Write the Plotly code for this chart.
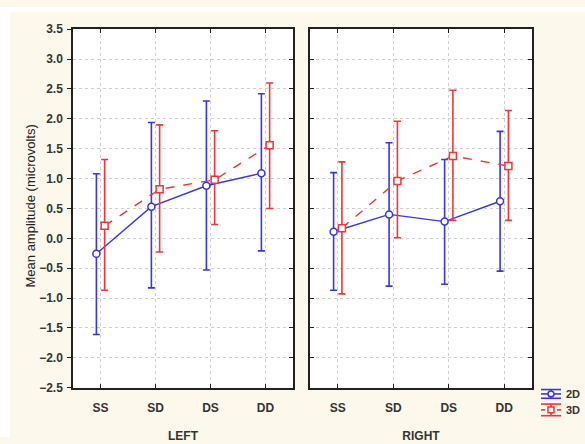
import plotly.graph_objects as go

categories = ["SS", "SD", "DS", "DD"]
panels = ["LEFT", "RIGHT"]

# LEFT panel
left_2d_mean = [-0.26, 0.53, 0.88, 1.09]
left_2d_upper = [1.08, 1.94, 2.30, 2.42]
left_2d_lower = [-1.61, -0.83, -0.53, -0.21]
left_3d_mean = [0.21, 0.82, 0.98, 1.56]
left_3d_upper = [1.32, 1.90, 1.80, 2.60]
left_3d_lower = [-0.87, -0.23, 0.23, 0.50]

# RIGHT panel
right_2d_mean = [0.11, 0.40, 0.28, 0.62]
right_2d_upper = [1.10, 1.60, 1.32, 1.79]
right_2d_lower = [-0.87, -0.80, -0.77, -0.55]
right_3d_mean = [0.17, 0.96, 1.38, 1.21]
right_3d_upper = [1.28, 1.96, 2.48, 2.14]
right_3d_lower = [-0.93, 0.01, 0.30, 0.30]

series_names = ["2D", "3D"]
yticks = [3.5, 3.0, 2.5, 2.0, 1.5, 1.0, 0.5, 0.0, -0.5, -1.0, -1.5, -2.0, -2.5]
y_title = "Mean amplitude (microvolts)"

BLUE = "#3535f5"
RED = "#f23535"
CREAM = "#fcf8ec"
FONT = "Liberation Sans, Arial, sans-serif"

fig = go.Figure()

data = {
    ("LEFT", "2D"): (left_2d_mean, left_2d_upper, left_2d_lower),
    ("LEFT", "3D"): (left_3d_mean, left_3d_upper, left_3d_lower),
    ("RIGHT", "2D"): (right_2d_mean, right_2d_upper, right_2d_lower),
    ("RIGHT", "3D"): (right_3d_mean, right_3d_upper, right_3d_lower),
}
style = {
    "2D": dict(color=BLUE, dash="solid", symbol="circle", off=-0.075),
    "3D": dict(color=RED, dash="dash", symbol="square", off=0.075),
}

for pi, panel in enumerate(panels):
    xa = "x" if pi == 0 else "x2"
    ya = "y" if pi == 0 else "y2"
    for name in series_names:
        m, up, lo = data[(panel, name)]
        st = style[name]
        xs = [i + st["off"] for i in range(len(categories))]
        fig.add_trace(go.Scatter(
            x=xs, y=m, mode="lines+markers", name=name,
            xaxis=xa, yaxis=ya, showlegend=False,
            line=dict(color=st["color"], width=1.4, dash=st["dash"]),
            marker=dict(symbol=st["symbol"], size=7, color="white",
                        line=dict(color=st["color"], width=1.5)),
            error_y=dict(type="data", symmetric=False,
                         array=[u - v for u, v in zip(up, m)],
                         arrayminus=[v - l for v, l in zip(m, lo)],
                         color=st["color"], thickness=1.6, width=3.5),
        ))

W, H = 585, 444
def px_x(p):
    return p / W
def px_y(p):
    return 1 - p / H

GRID = dict(showgrid=True, gridcolor="#cfcfcf", griddash="dot", gridwidth=1)
TICKFONT = dict(family=FONT, size=12, color="#333", weight="bold")

xaxis_common = dict(
    range=[-0.5, 3.5], tickvals=list(range(len(categories))), ticktext=categories,
    **GRID,
    showline=True, linecolor="#222", linewidth=1.5, mirror="ticks",
    ticks="inside", ticklen=4, tickcolor="#222", zeroline=False,
    tickfont=TICKFONT, ticklabelstandoff=8,
    title=dict(font=dict(family=FONT, size=12, color="#333"), standoff=18),
)
ydom = [px_y(393), px_y(23)]
yaxis_common = dict(
    range=[-2.5, 3.5], tickvals=yticks, tickformat=".1f",
    **GRID,
    showline=True, linecolor="#222", linewidth=1.5,
    ticklen=4, tickcolor="#222", zeroline=False,
    tickfont=TICKFONT,
    domain=ydom,
)

# --- manual legend (decorative glyphs in pixel space) ---
shapes = [
    dict(type="rect", xref="paper", yref="paper", x0=0, x1=1, y0=px_y(5), y1=1,
         fillcolor="white", line=dict(width=0), layer="below"),
    dict(type="rect", xref="paper", yref="paper", x0=0, x1=px_x(10), y0=0, y1=1,
         fillcolor="white", line=dict(width=0), layer="below"),
]
annotations = [
    dict(text=y_title, xref="paper", yref="paper", x=px_x(31), y=px_y(206),
         xanchor="center", yanchor="middle", textangle=-90, showarrow=False,
         font=dict(family=FONT, size=13, color="#222")),
]
LX0, LX1, LXC = 541, 561, 551
legend_rows = [
    ("2D", BLUE, "circle", 395, 399.5, 404),
    ("3D", RED, "square", 410, 416, 422),
]
def seg(x0, y0, x1, y1, color, dash="solid"):
    return dict(type="line", xref="paper", yref="paper",
                x0=px_x(x0), x1=px_x(x1), y0=px_y(y0), y1=px_y(y1),
                line=dict(color=color, width=1.6, dash=dash))
for name, col, sym, ytop, ymid, ybot in legend_rows:
    shapes.append(seg(LX0, ytop, LX1, ytop, col))
    shapes.append(seg(LX0, ybot, LX1, ybot, col))
    shapes.append(seg(LXC, ytop, LXC, ybot, col))
    if sym == "circle":
        shapes.append(seg(LX0, ymid, LX1, ymid, col))
        shapes.append(dict(type="circle", xref="paper", yref="paper",
                           x0=px_x(LXC - 3), x1=px_x(LXC + 3),
                           y0=px_y(ymid + 3), y1=px_y(ymid - 3),
                           fillcolor="white", line=dict(color=col, width=1.5)))
    else:
        shapes.append(seg(LX0, ymid, LX0 + 4, ymid, col))
        shapes.append(seg(LX1 - 4, ymid, LX1, ymid, col))
        shapes.append(dict(type="rect", xref="paper", yref="paper",
                           x0=px_x(LXC - 3), x1=px_x(LXC + 3),
                           y0=px_y(ymid + 3), y1=px_y(ymid - 3),
                           fillcolor="white", line=dict(color=col, width=1.5)))
    annotations.append(dict(text=f"<b>{name}</b>", xref="paper", yref="paper",
                            x=px_x(564), y=px_y(ymid), xanchor="left", yanchor="middle",
                            showarrow=False,
                            font=dict(family=FONT, size=11, color="#333")))

fig.update_layout(
    width=W, height=H, margin=dict(l=0, r=0, t=0, b=0),
    paper_bgcolor=CREAM, plot_bgcolor="white",
    font=dict(family=FONT, color="#333"),
    showlegend=False,
    xaxis=dict(**xaxis_common, domain=[px_x(73), px_x(293)], anchor="y",
               title_text="<b>LEFT</b>"),
    xaxis2=dict(**xaxis_common, domain=[px_x(310), px_x(532)], anchor="y2",
                title_text="<b>RIGHT</b>"),
    yaxis=dict(**yaxis_common, anchor="x", ticks="outside", mirror=True,
               ticklabelstandoff=2),
    yaxis3=dict(range=[-2.5, 3.5], tickvals=yticks, overlaying="y", anchor="x",
                side="right", showgrid=False, zeroline=False, showline=False,
                ticks="inside", ticklen=4, tickcolor="#222", showticklabels=False),
    yaxis2=dict(**yaxis_common, anchor="x2", ticks="inside", mirror="ticks",
                showticklabels=False),
    shapes=shapes,
    annotations=annotations,
)
fig.add_trace(go.Scatter(x=[None], y=[None], xaxis="x", yaxis="y3",
                         showlegend=False, hoverinfo="skip"))

fig.write_html("out.html")
